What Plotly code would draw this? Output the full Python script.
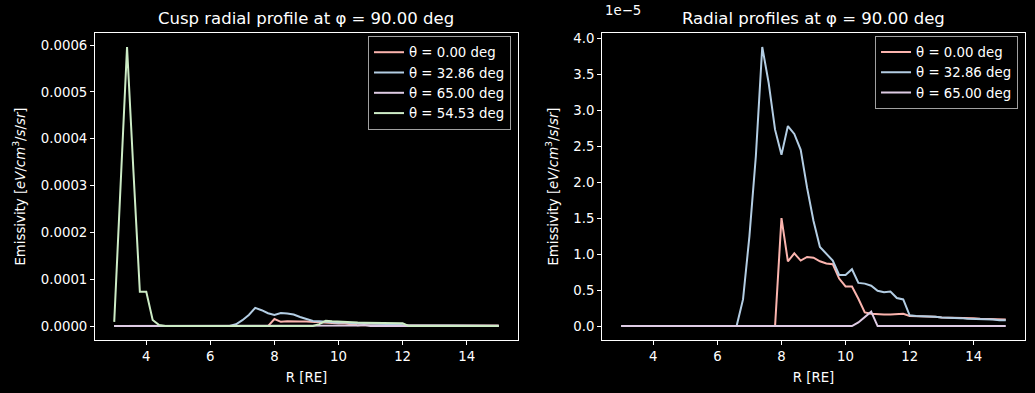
import plotly.graph_objects as go

# Radial grid [RE]
R = [3.0, 3.2, 3.4, 3.6, 3.8, 4.0, 4.2, 4.4, 4.6, 4.8,
     5.0, 5.2, 5.4, 5.6, 5.8, 6.0, 6.2, 6.4, 6.6, 6.8,
     7.0, 7.2, 7.4, 7.6, 7.8, 8.0, 8.2, 8.4, 8.6, 8.8,
     9.0, 9.2, 9.4, 9.6, 9.8, 10.0, 10.2, 10.4, 10.6, 10.8,
     11.0, 11.2, 11.4, 11.6, 11.8, 12.0, 12.2, 12.4, 12.6, 12.8,
     13.0, 13.2, 13.4, 13.6, 13.8, 14.0, 14.2, 14.4, 14.6, 14.8,
     15.0]

# Emissivity values in units of 1e-5 eV/cm^3/s/sr
emis_theta_0 = [0, 0, 0, 0, 0, 0, 0, 0, 0, 0,
                0, 0, 0, 0, 0, 0, 0, 0, 0, 0,
                0, 0, 0, 0, 0, 1.50, 0.90, 1.01, 0.91, 0.96,
                0.95, 0.90, 0.87, 0.86, 0.66, 0.55, 0.55, 0.38, 0.19, 0.17,
                0.16, 0.16, 0.16, 0.16, 0.17, 0.14, 0.14, 0.13, 0.13, 0.13,
                0.12, 0.12, 0.12, 0.11, 0.11, 0.11, 0.10, 0.10, 0.10, 0.09,
                0.09]
emis_theta_3286 = [0, 0, 0, 0, 0, 0, 0, 0, 0, 0,
                   0, 0, 0, 0, 0, 0, 0, 0, 0, 0.37,
                   1.25, 2.36, 3.88, 3.38, 2.73, 2.38, 2.78, 2.67, 2.45, 1.92,
                   1.46, 1.10, 1.01, 0.91, 0.71, 0.71, 0.79, 0.60, 0.59, 0.56,
                   0.49, 0.47, 0.48, 0.39, 0.37, 0.15, 0.14, 0.14, 0.13, 0.13,
                   0.12, 0.12, 0.11, 0.11, 0.10, 0.10, 0.10, 0.09, 0.09, 0.08,
                   0.08]
emis_theta_65 = [0, 0, 0, 0, 0, 0, 0, 0, 0, 0,
                 0, 0, 0, 0, 0, 0, 0, 0, 0, 0,
                 0, 0, 0, 0, 0, 0, 0, 0, 0, 0,
                 0, 0, 0, 0, 0, 0, 0, 0.05, 0.12, 0.20,
                 0, 0, 0, 0, 0, 0, 0, 0, 0, 0,
                 0, 0, 0, 0, 0, 0, 0, 0, 0, 0,
                 0]
emis_theta_5453 = [0.9, 30.0, 59.6, 33.0, 7.3, 7.3, 1.3, 0.2, 0, 0,
                   0, 0, 0, 0, 0, 0, 0, 0, 0, 0,
                   0, 0, 0, 0, 0, 0, 0, 0, 0, 0,
                   0, 0, 0.4, 1.1, 1.0, 0.9, 0.85, 0.8, 0.75, 0.72,
                   0.70, 0.68, 0.65, 0.63, 0.60, 0.60, 0, 0, 0, 0,
                   0, 0, 0, 0, 0, 0, 0, 0, 0, 0,
                   0]

UNIT = 1e-5
labels = ["θ = 0.00 deg", "θ = 32.86 deg", "θ = 65.00 deg", "θ = 54.53 deg"]
colors = ["#fbb4ae", "#b3cde3", "#decbe4", "#ccebc5"]

x_ticks = [4, 6, 8, 10, 12, 14]
left_yticks = [0, 0.0001, 0.0002, 0.0003, 0.0004, 0.0005, 0.0006]
left_yticktext = ["0.0000", "0.0001", "0.0002", "0.0003", "0.0004", "0.0005", "0.0006"]
right_yticks_e5 = [0.0, 0.5, 1.0, 1.5, 2.0, 2.5, 3.0, 3.5, 4.0]

FONT = "DejaVu Sans"
FS = 13.3

left_series = [emis_theta_0, emis_theta_3286, emis_theta_65, emis_theta_5453]
right_series = [emis_theta_0, emis_theta_3286, emis_theta_65]

fig = go.Figure()
for s, lab, col in zip(left_series, labels, colors):
    fig.add_trace(go.Scatter(x=R, y=[v * UNIT for v in s], mode="lines", name=lab,
                             line=dict(color=col, width=2), xaxis="x", yaxis="y",
                             legend="legend"))
for s, lab, col in zip(right_series, labels, colors):
    fig.add_trace(go.Scatter(x=R, y=[v * UNIT for v in s], mode="lines", name=lab,
                             line=dict(color=col, width=2), xaxis="x2", yaxis="y2",
                             legend="legend2"))

lmax = max(max(s) for s in left_series) * UNIT
rmax = max(max(s) for s in right_series) * UNIT
xr = [min(R) - 0.05 * (max(R) - min(R)), max(R) + 0.05 * (max(R) - min(R))]

axis_common = dict(showline=True, mirror=True, linecolor="white", linewidth=1,
                   ticks="outside", ticklen=4, tickwidth=1, tickcolor="white",
                   showgrid=False, zeroline=False, automargin=False,
                   tickfont=dict(family=FONT, size=FS, color="white"),
                   title_font=dict(family=FONT, size=FS, color="white"))

ytitle = "Emissivity [<i>eV</i>/<i>cm</i><sup>3</sup>/<i>s</i>/<i>sr</i>]"

fig.update_layout(
    width=1035, height=393,
    paper_bgcolor="black", plot_bgcolor="black",
    margin=dict(l=95, r=10, t=33, b=53),
    font=dict(family=FONT, size=FS, color="white"),
    xaxis=dict(domain=[0, 0.4548], range=xr, tickvals=x_ticks, anchor="y",
               title=dict(text="R [RE]", standoff=9), **axis_common),
    yaxis=dict(domain=[0, 1], range=[-0.05 * lmax, 1.05 * lmax], anchor="x",
               tickvals=left_yticks, ticktext=left_yticktext,
               title=dict(text=ytitle, standoff=12), **axis_common),
    xaxis2=dict(domain=[0.5452, 1], range=xr, tickvals=x_ticks, anchor="y2",
                title=dict(text="R [RE]", standoff=9), **axis_common),
    yaxis2=dict(domain=[0, 1], range=[-0.05 * rmax, 1.05 * rmax], anchor="x2",
                tickvals=[v * UNIT for v in right_yticks_e5],
                ticktext=["%.1f" % v for v in right_yticks_e5],
                title=dict(text=ytitle, standoff=11), **axis_common),
    legend=dict(x=0.4473, xanchor="right", y=0.99, yanchor="top",
                bgcolor="rgba(0,0,0,0.8)", bordercolor="#a0a0a0", borderwidth=1,
                font=dict(family=FONT, size=FS, color="white")),
    legend2=dict(x=0.9925, xanchor="right", y=0.991, yanchor="top",
                 bgcolor="rgba(0,0,0,0.8)", bordercolor="#a0a0a0", borderwidth=1,
                 font=dict(family=FONT, size=FS, color="white")),
    annotations=[
        dict(text="Cusp radial profile at φ = 90.00 deg", x=0.2274, y=1.048,
             xref="paper", yref="paper", xanchor="center", yanchor="middle",
             showarrow=False, font=dict(family=FONT, size=16.5, color="white")),
        dict(text="Radial profiles at φ = 90.00 deg", x=0.7726, y=1.048,
             xref="paper", yref="paper", xanchor="center", yanchor="middle",
             showarrow=False, font=dict(family=FONT, size=16.5, color="white")),
        dict(text="1e−5", x=0.5462, y=1.0717, xref="paper", yref="paper",
             xanchor="left", yanchor="middle", showarrow=False,
             font=dict(family=FONT, size=FS, color="white")),
    ],
)

fig.write_html(
    "out.html",
    config={"displayModeBar": False},
    post_script="document.body.style.margin='0';document.body.style.background='black';",
)
